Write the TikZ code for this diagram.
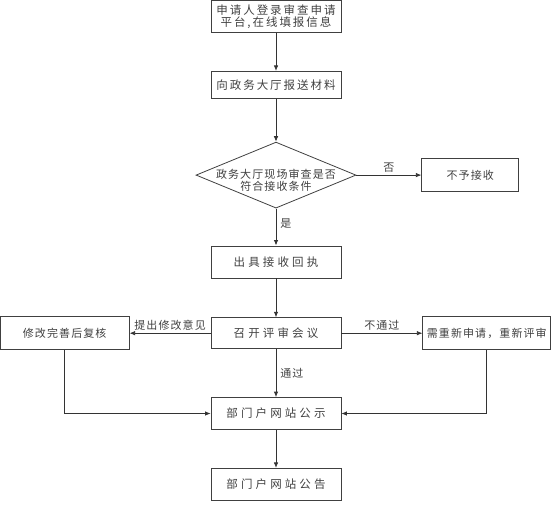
\documentclass[tikz,border=0pt]{standalone}
\usepackage{fontspec}
\setmainfont{Noto Sans CJK SC}
\newfontfamily\smallcjk[LetterSpace=10]{Noto Sans CJK SC}
\newfontfamily\midcjk[LetterSpace=17]{Noto Sans CJK SC}
\newfontfamily\widecjk[LetterSpace=27]{Noto Sans CJK SC}
\usetikzlibrary{arrows.meta,positioning,shapes.geometric}

\begin{document}
\begin{tikzpicture}[x=1pt, y=1pt,
stage/.style={draw=black!75, line width=0.8pt, text=black!75, align=center, minimum width=130pt, minimum height=32pt, inner sep=0pt, font=\widecjk\fontsize{11.5}{12.5}\selectfont},
side/.style={stage, minimum height=33pt, font=\smallcjk\fontsize{11}{12}\selectfont},
choice/.style={draw=black!75, line width=0.8pt, diamond, minimum width=160pt, minimum height=66pt, inner sep=0pt},
tag/.style={text=black!75, font=\smallcjk\fontsize{11}{12}\selectfont, inner sep=2pt},
link/.style={-{Latex[length=5.5pt,width=4.5pt]}, line width=0.8pt, draw=black!80}
]
\useasboundingbox (0,0) rectangle (552,-504);
\node[stage, font=\midcjk\fontsize{11.5}{12}\selectfont] (apply) at (276,-16.5) {申请人登录审查申请\\平台,在线填报信息};
\node[stage, minimum height=27pt, font=\midcjk\fontsize{11.5}{12}\selectfont, below=38pt of apply] (submit) {向政务大厅报送材料};
\node[choice, below=43pt of submit, label={[tag, yshift=-5pt, align=center, font=\smallcjk\fontsize{11}{11.5}\selectfont]center:政务大厅现场审查是否\\符合接收条件}] (check) {};
\node[side, minimum width=97pt, right=65pt of check] (reject) {不予接收};
\node[stage, below=37pt of check] (receipt) {出具接收回执};
\node[stage, minimum height=31pt, below=39pt of receipt] (meeting) {召开评审会议};
\node[side, minimum width=129pt, left=81pt of meeting] (revise) {修改完善后复核};
\node[side, minimum width=128pt, right=81pt of meeting] (reapply) {需重新申请，重新评审};
\node[stage, below=48pt of meeting] (publicity) {部门户网站公示};
\node[stage, below=38pt of publicity] (notice) {部门户网站公告};
\draw[link] (apply) -- (submit);
\draw[link] (submit) -- (check);
\draw[link] (check.east) -- node[tag, above]{否} (reject.west);
\draw[link] (check.south) -- node[tag, right, pos=0.4, xshift=2pt]{是} (receipt);
\draw[link] (receipt) -- (meeting);
\draw[link] (meeting) -- node[tag, above]{提出修改意见} (revise);
\draw[link] (meeting) -- node[tag, above]{不通过} (reapply);
\draw[link] (meeting) -- node[tag, right, xshift=2pt]{通过} (publicity);
\draw[link] (revise.south) |- (publicity.west);
\draw[link] (reapply.south) |- (publicity.east);
\draw[link] (publicity) -- (notice);
\end{tikzpicture}
\end{document}
